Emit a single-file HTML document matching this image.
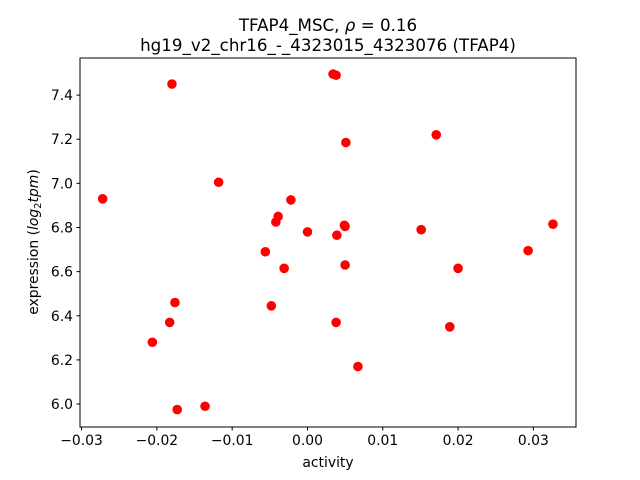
<!DOCTYPE html>
<html><head><meta charset="utf-8"><style>body{margin:0;background:#fff}svg{display:block;font-family:"DejaVu Sans","Liberation Sans",sans-serif}</style></head>
<body>
<svg id="chart" width="640" height="480">
<rect x="0" y="0" width="640" height="480" fill="#fff"/>
<text x="328" y="31" font-size="16.7" text-anchor="middle">TFAP4_MSC, <tspan font-style="italic">ρ</tspan> = 0.16</text>
<text x="328" y="51" font-size="16.7" text-anchor="middle">hg19_v2_chr16_-_4323015_4323076 (TFAP4)</text>
<g id="plot"></g>
<rect x="80" y="58" width="496" height="369" fill="none" stroke="#000" stroke-width="1"/>
<text x="328" y="467" font-size="13.9" text-anchor="middle">activity</text>
<text transform="translate(38,242) rotate(-90)" font-size="13.9" text-anchor="middle">expression (<tspan font-style="italic">log</tspan><tspan font-size="10" dy="3">2</tspan><tspan dy="-3" font-style="italic">tpm</tspan>)</text>
</svg>
<script>
const xTicks = [-0.03, -0.02, -0.01, 0.00, 0.01, 0.02, 0.03];
const xTickLabels = ["−0.03", "−0.02", "−0.01", "0.00", "0.01", "0.02", "0.03"];
const yTicks = [6.0, 6.2, 6.4, 6.6, 6.8, 7.0, 7.2, 7.4];
const yTickLabels = ["6.0", "6.2", "6.4", "6.6", "6.8", "7.0", "7.2", "7.4"];
const activity = [-0.0272,-0.018,-0.0118,0.0034,0.0038,0.0051,0.0171,-0.0022,-0.0039,-0.0042,0.0,0.0039,0.005,0.0049,0.0151,-0.0056,-0.0031,0.005,0.02,0.0293,0.0326,-0.0176,-0.0048,-0.0183,0.0038,0.0189,-0.0206,0.0067,-0.0173,-0.0136];
const expression = [6.93,7.45,7.005,7.495,7.49,7.185,7.22,6.925,6.85,6.825,6.78,6.765,6.805,6.81,6.79,6.69,6.615,6.63,6.615,6.695,6.815,6.46,6.445,6.37,6.37,6.35,6.28,6.17,5.975,5.99];
const X0=80,X1=576,Y0=58,Y1=427;
const xMin=-0.03021,xMax=0.03566,yMin=5.896,yMax=7.568;
const sx=v=>X0+(v-xMin)/(xMax-xMin)*(X1-X0);
const sy=v=>Y1-(v-yMin)/(yMax-yMin)*(Y1-Y0);
const NS="http://www.w3.org/2000/svg";
const g=document.getElementById('plot');
function mk(t,a){const e=document.createElementNS(NS,t);for(const k in a)e.setAttribute(k,a[k]);return e;}
xTicks.forEach((v,i)=>{
  const x=sx(v);
  const l=mk('line',{x1:x,x2:x,y1:Y1,y2:Y1+3.5,stroke:'#000'});
  
  
  g.appendChild(l);
  const t=mk('text',{x:x,y:Y1+18,'font-size':13.9,'text-anchor':'middle'});
  t.textContent=xTickLabels[i];
  
  
  g.appendChild(t);
});
yTicks.forEach((v,i)=>{
  const y=sy(v);
  const l=mk('line',{x1:X0-3.5,x2:X0,y1:y,y2:y,stroke:'#000'});
  
  
  g.appendChild(l);
  const t=mk('text',{x:X0-7,y:y+5,'font-size':13.9,'text-anchor':'end'});
  t.textContent=yTickLabels[i];
  
  
  g.appendChild(t);
});
activity.forEach((v,i)=>{
  const c=mk('circle',{cx:sx(v),cy:sy(expression[i]),r:4.8,fill:'#ff0000'});
  
  
  g.appendChild(c);
});
</script>
</body></html>
